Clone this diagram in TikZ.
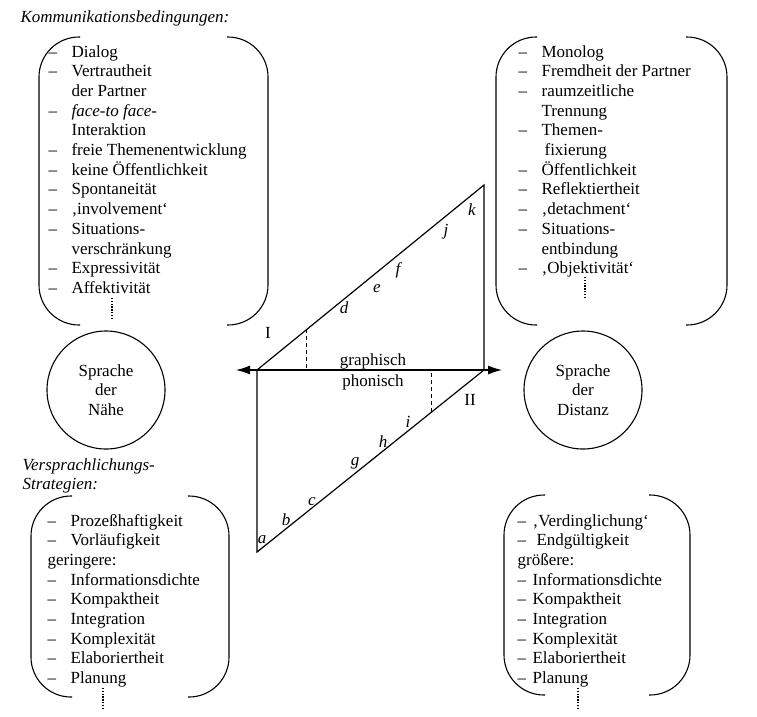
\documentclass[tikz,border=0pt]{standalone}
\usepackage{fontspec}
\setmainfont{Liberation Serif}
\usetikzlibrary{arrows.meta,calc,positioning}

\tikzset{
  listtext/.style={inner sep=0pt, anchor=base west},
  heading/.style={inner sep=0pt, anchor=base west, font=\fontsize{17}{19.7}\selectfont\itshape},
  brk/.style={line width=1.1pt, rounded corners=40pt},
  vdots/.style={line width=1.4pt, dash pattern=on 1.4pt off 1.4pt},
  seglabel/.style={inner sep=0pt, font=\fontsize{17}{19.7}\selectfont\itshape},
  spr/.style={circle, draw, line width=1.1pt, minimum size=118pt, inner sep=0pt, align=center},
}
% Klammer: links, oben, rechts, unten
\newcommand{\klammer}[4]{%
  \draw[brk] (#1+41,#2) -- (#1,#2) -- (#1,#4) -- (#1+41,#4);
  \draw[brk] (#3-41,#2) -- (#3,#2) -- (#3,#4) -- (#3-41,#4);
}

\begin{document}
\begin{tikzpicture}[x=1pt, y=-1pt, line width=1.2pt,
    font=\fontsize{17}{19.7}\selectfont]
  \useasboundingbox (0,0) rectangle (757,716);

  % Kommunikationsbedingungen
  \node[heading] (kom) at (20,22) {Kommunikationsbedingungen:};
  \klammer{39}{37}{268}{325}
  \node[listtext] (naeheList) at (48,57) {\begin{tabular}[t]{@{}p{23pt}@{}l@{}}
    – & Dialog\\
    – & Vertrautheit\\
      & der Partner\\
    – & \textit{face-to face-}\\
      & Interaktion\\
    – & freie Themenentwicklung\\
    – & keine Öffentlichkeit\\
    – & Spontaneität\\
    – & ‚involvement‘\\
    – & Situations-\\
      & verschränkung\\
    – & Expressivität\\
    – & Affektivität
  \end{tabular}};
  \draw[vdots] (112,298) -- (112,319);

  \klammer{496}{37}{727}{325}
  \node[listtext] (distanzList) at (518,57) {\begin{tabular}[t]{@{}p{23pt}@{}l@{}}
    – & Monolog\\
    – & Fremdheit der Partner\\
    – & raumzeitliche\\
      & Trennung\\
    – & Themen-\\
      & \hspace{3pt}fixierung\\
    – & Öffentlichkeit\\
    – & Reflektiertheit\\
    – & ‚detachment‘\\
    – & Situations-\\
      & entbindung\\
    – & ‚Objektivität‘
  \end{tabular}};
  \draw[vdots] (585,277) -- (585,298);

  % Sprache der Naehe / Distanz
  \node[spr] (naehe) at (106,390) {Sprache\\der\\Nähe};
  \node[spr] (distanz) at (583,390) {Sprache\\der\\Distanz};

  % Parallelogramm
  \coordinate (L) at (257,370);
  \coordinate (T) at (484,185);
  \coordinate (R) at (484,370);
  \coordinate (B) at (257,552);
  \coordinate (axL) at (236,370);
  \coordinate (axR) at (502,370);
  \draw (L) -- (T) -- (R) -- (B) -- cycle;
  \draw[{Latex[length=14pt,width=9pt]}-{Latex[length=14pt,width=9pt]}] (axL) -- (axR);
  \draw[line width=1pt, dash pattern=on 4pt off 3pt] ($(L)!.22!(T)$) -- ($(L)!.22!(R)$);
  \draw[line width=1pt, dash pattern=on 4pt off 3pt] ($(R)!.23!(B)$) -- ($(R)!.23!(L)$);

  \node[inner sep=0pt, anchor=base] (graph) at (373,365) {graphisch};
  \node[inner sep=0pt, anchor=base] (phon) at (373,386) {phonisch};
  \node[inner sep=0pt, anchor=base] (eins) at (268,338) {I};
  \node[inner sep=0pt, anchor=base] (zwei) at (470,405) {II};

  \node[seglabel] (d) at (344,308) {d};
  \node[seglabel] (e) at (377,289) {e};
  \node[seglabel] (f) at (398,270) {f};
  \node[seglabel] (j) at (446,232) {j};
  \node[seglabel] (k) at (472,210) {k};
  \node[seglabel] (a) at (262,540) {a};
  \node[seglabel] (b) at (286,520) {b};
  \node[seglabel] (c) at (312,502) {c};
  \node[seglabel] (g) at (355,463) {g};
  \node[seglabel] (h) at (383,442) {h};
  \node[seglabel] (i) at (408,422) {i};

  % Versprachlichungsstrategien
  \node[heading] (vers) at (22,470) {Versprachlichungs-};
  \node[heading] (strat) at (22,489) {Strategien:};
  \klammer{31}{496}{229}{697}
  \node[listtext] (naeheStrat) at (47,526) {\begin{tabular}[t]{@{}p{23pt}@{}l@{}}
    – & Prozeßhaftigkeit\\
    – & Vorläufigkeit\\
    \multicolumn{2}{@{}l@{}}{geringere:}\\
    – & Informationsdichte\\
    – & Kompaktheit\\
    – & Integration\\
    – & Komplexität\\
    – & Elaboriertheit\\
    – & Planung
  \end{tabular}};
  \draw[vdots] (103,688) -- (103,708);

  \klammer{504}{495}{690}{695}
  \node[listtext] (distanzStrat) at (517,526) {\begin{tabular}[t]{@{}p{15pt}@{}l@{}}
    – & ‚Verdinglichung‘\\
    – & \hspace{4pt}Endgültigkeit\\
    \multicolumn{2}{@{}l@{}}{größere:}\\
    – & Informationsdichte\\
    – & Kompaktheit\\
    – & Integration\\
    – & Komplexität\\
    – & Elaboriertheit\\
    – & Planung
  \end{tabular}};
  \draw[vdots] (578,688) -- (578,708);
\end{tikzpicture}
\end{document}
